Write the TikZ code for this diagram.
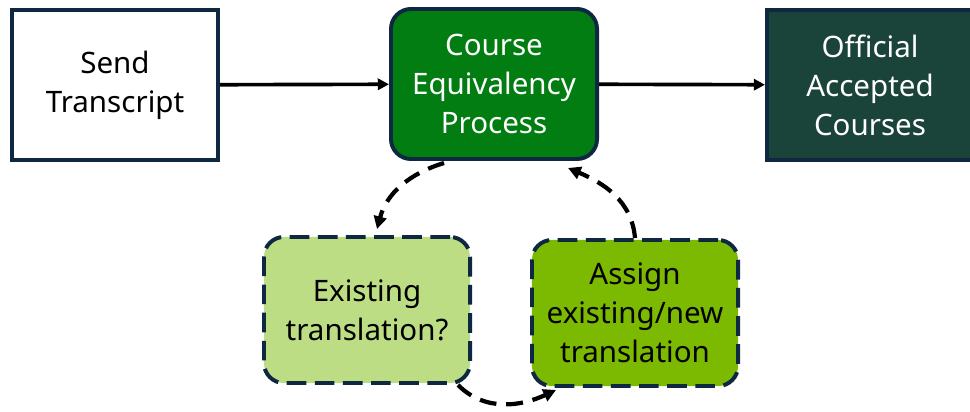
\documentclass[tikz,border=0pt]{standalone}
\usepackage{fontspec}
\setmainfont{Noto Sans}
\usetikzlibrary{arrows.meta}
\definecolor{edge}{HTML}{0E2841}
\definecolor{coregreen}{HTML}{027D12}
\definecolor{finalgreen}{HTML}{1A4339}
\definecolor{palegreen}{HTML}{BCDD84}
\definecolor{limegreen}{HTML}{7BBA00}

\begin{document}
\begin{tikzpicture}[x=0.025cm, y=0.025cm,
    box/.style={draw=edge, line width=2.8pt, align=center, inner sep=0pt,
      minimum width=5.15cm, minimum height=3.75cm,
      font=\fontsize{21}{27.7}\selectfont},
    plainbox/.style={box, fill=white, text=black},
    corebox/.style={box, fill=coregreen, text=white, rounded corners=0.5cm},
    finalbox/.style={box, fill=finalgreen, text=white},
    loopbox/.style={box, dash pattern=on 14pt off 6pt, rounded corners=0.5cm,
      minimum height=3.65cm, text=black},
    flow/.style={line width=2.6pt, -{Triangle[length=8pt, width=8pt]}},
    cycle/.style={line width=3pt, dash pattern=on 12pt off 7pt,
      -{Triangle[length=9pt, width=9pt]}}
  ]
  \useasboundingbox (0,0) rectangle (970,-412);

  \node[plainbox] (send) at (115,-85) {Send\\Transcript};
  \node[corebox] (course) at (494,-84) {Course\\Equivalency\\Process};
  \node[finalbox] (official) at (870,-85) {Official\\Accepted\\Courses};
  \node[loopbox, fill=palegreen] (exist) at (367,-310) {Existing\\translation?};
  \node[loopbox, fill=limegreen] (assign) at (635,-313) {Assign\\existing/new\\translation};

  \draw[flow] (send) -- (course);
  \draw[flow] (course) -- (official);

  \draw[cycle] ([shift={(-50,-2)}]course.south) to[out=197, in=75] ([shift={(10,6)}]exist.north);
  \draw[cycle] ([shift={(-14,0)}]exist.south east) to[out=-45, in=205] ([shift={(26,-2)}]assign.south west);
  \draw[cycle] (assign.north) to[out=95, in=-23] ([shift={(74,-7)}]course.south);
\end{tikzpicture}
\end{document}
